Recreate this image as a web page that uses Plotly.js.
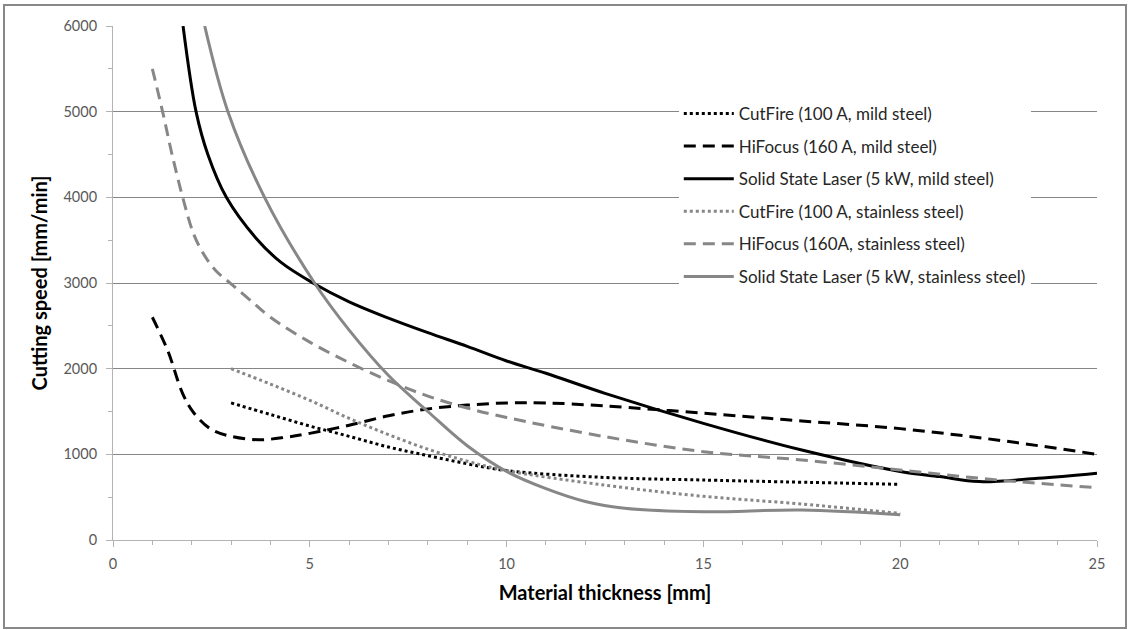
<!DOCTYPE html>
<html>
<head>
<meta charset="utf-8">
<script src="https://cdn.plot.ly/plotly-3.0.1.min.js"></script>
<style>
html,body{margin:0;padding:0;background:#fff;}
#chart{width:1128px;height:630px;}
</style>
</head>
<body>
<div id="chart"></div>
<script>
// Series names
const seriesNames = [
  "CutFire (100 A, mild steel)",
  "HiFocus (160 A, mild steel)",
  "Solid State Laser (5 kW, mild steel)",
  "CutFire (100 A, stainless steel)",
  "HiFocus (160A, stainless steel)",
  "Solid State Laser (5 kW, stainless steel)"
];

// CutFire mild steel
const cfMildX = [3, 4, 5, 6, 7, 8, 9, 10, 12.5, 15, 20];
const cfMildY = [1600, 1465, 1330, 1210, 1085, 985, 890, 810, 730, 700, 650];

// HiFocus mild steel
const hfMildX = [1, 1.4, 1.77, 2.06, 2.5, 3, 3.7, 4.4, 5, 6, 7, 8, 9, 10, 11, 12.5, 15, 17.5, 20, 22.5, 25];
const hfMildY = [2600, 2200, 1710, 1480, 1290, 1210, 1170, 1200, 1245, 1340, 1450, 1530, 1575, 1600, 1600, 1565, 1480, 1390, 1300, 1165, 1000];

// Solid State Laser mild steel
const sslMildX = [1.78, 2.11, 2.41, 2.88, 3.64, 4.27, 5.08, 6, 7, 8, 9, 10, 11, 12.5, 15, 17.5, 20, 21, 22, 23.5, 25];
const sslMildY = [6000, 5000, 4500, 4000, 3520, 3240, 3000, 2780, 2590, 2420, 2260, 2090, 1946, 1712, 1362, 1050, 800, 740, 682, 720, 780];

// CutFire stainless steel
const cfStainX = [3, 4, 5, 6, 7, 8, 9, 10, 12.5, 15, 17.5, 20];
const cfStainY = [2000, 1820, 1630, 1420, 1230, 1060, 920, 810, 640, 510, 420, 310];

// HiFocus stainless steel
const hfStainX = [1, 1.27, 1.5, 1.8, 2.05, 2.3, 2.62, 3, 3.46, 4, 5, 6, 7, 8, 9, 10, 12.5, 15, 17.5, 20, 22.5, 25];
const hfStainY = [5500, 4980, 4500, 3950, 3570, 3340, 3140, 2990, 2810, 2600, 2310, 2070, 1860, 1680, 1540, 1430, 1206, 1031, 934, 817, 700, 610];

// Solid State Laser stainless steel
const sslStainX = [2.33, 2.92, 3.85, 5.12, 6, 7, 8, 9, 10, 11, 12, 13, 15, 17.5, 20];
const sslStainY = [6000, 5000, 4000, 3000, 2450, 1920, 1500, 1100, 800, 600, 450, 370, 330, 350, 295];

// X / Y tick values
const xTicks = [0, 5, 10, 15, 20, 25];
const yTicks = [0, 1000, 2000, 3000, 4000, 5000, 6000];

const BLACK = "#000000";
const GRAY = "#878787";
const LW = 3;

function tr(name, x, y, color, dash, group) {
  return {
    type: "scatter", mode: "lines", name: name, x: x, y: y,
    line: {color: color, width: LW, dash: dash, shape: "spline", smoothing: 1},
    legendgroup: group, hoverinfo: "skip", cliponaxis: true
  };
}

const data = [
  tr(seriesNames[0], cfMildX, cfMildY, BLACK, "dot", "g1"),
  tr(seriesNames[1], hfMildX, hfMildY, BLACK, "12px,7px", "g2"),
  tr(seriesNames[2], sslMildX, sslMildY, BLACK, "solid", "g3"),
  tr(seriesNames[3], cfStainX, cfStainY, GRAY, "dot", "g4"),
  tr(seriesNames[4], hfStainX, hfStainY, GRAY, "12px,7px", "g5"),
  tr(seriesNames[5], sslStainX, sslStainY, GRAY, "solid", "g6")
];

const FONT = "Lato, 'Noto Sans', sans-serif";

const layout = {
  width: 1128, height: 630,
  margin: {l: 113, r: 31, t: 26, b: 90, pad: 0},
  paper_bgcolor: "#ffffff", plot_bgcolor: "#ffffff",
  font: {family: FONT, size: 14, color: "#404040"},
  showlegend: true,
  legend: {
    x: 0.575, y: 0.864, xanchor: "left", yanchor: "top",
    bgcolor: "#ffffff", borderwidth: 0,
    traceorder: "grouped", tracegroupgap: 7.5,
    font: {family: FONT, size: 17, color: "#262626"},
    itemwidth: 50
  },
  xaxis: {
    range: [0, 25], tickvals: xTicks, ticktext: xTicks.map(String),
    showgrid: false, zeroline: false,
    showline: true, linecolor: "#b3b3b3", linewidth: 1,
    ticks: "outside", ticklen: 6, tickcolor: "#b3b3b3", tickwidth: 1,
    tickfont: {family: FONT, size: 14.5, color: "#595959"},
    ticklabelstandoff: 5,
    minor: {dtick: 1, ticks: "outside", ticklen: 4, tickcolor: "#b3b3b3", showgrid: false},
    title: {text: "Material thickness [mm]", font: {family: FONT, size: 20, color: "#000000", weight: "bold"}, standoff: 14},
    fixedrange: true
  },
  yaxis: {
    range: [0, 6000], tickvals: yTicks, ticktext: yTicks.map(String),
    showgrid: true, gridcolor: "#868686", gridwidth: 1,
    zeroline: false,
    showline: true, linecolor: "#b3b3b3", linewidth: 1,
    ticks: "outside", ticklen: 6, tickcolor: "#b3b3b3", tickwidth: 1,
    tickfont: {family: FONT, size: 14.5, color: "#595959"},
    ticklabelstandoff: 6,
    minor: {dtick: 500, ticks: "outside", ticklen: 4, tickcolor: "#b3b3b3", showgrid: false},
    title: {text: "Cutting speed [mm/min]", font: {family: FONT, size: 20, color: "#000000", weight: "bold"}, standoff: 10},
    fixedrange: true
  },
  shapes: [
    {type: "rect", xref: "paper", yref: "paper",
     x0: (4 - 113) / 984, x1: (1126 - 113) / 984,
     y0: (540 - 628) / 514, y1: (540 - 5) / 514,
     line: {color: "#888888", width: 2}, fillcolor: "rgba(0,0,0,0)", layer: "below"}
  ]
};

Plotly.newPlot("chart", data, layout, {staticPlot: true, displayModeBar: false});
</script>
</body>
</html>
